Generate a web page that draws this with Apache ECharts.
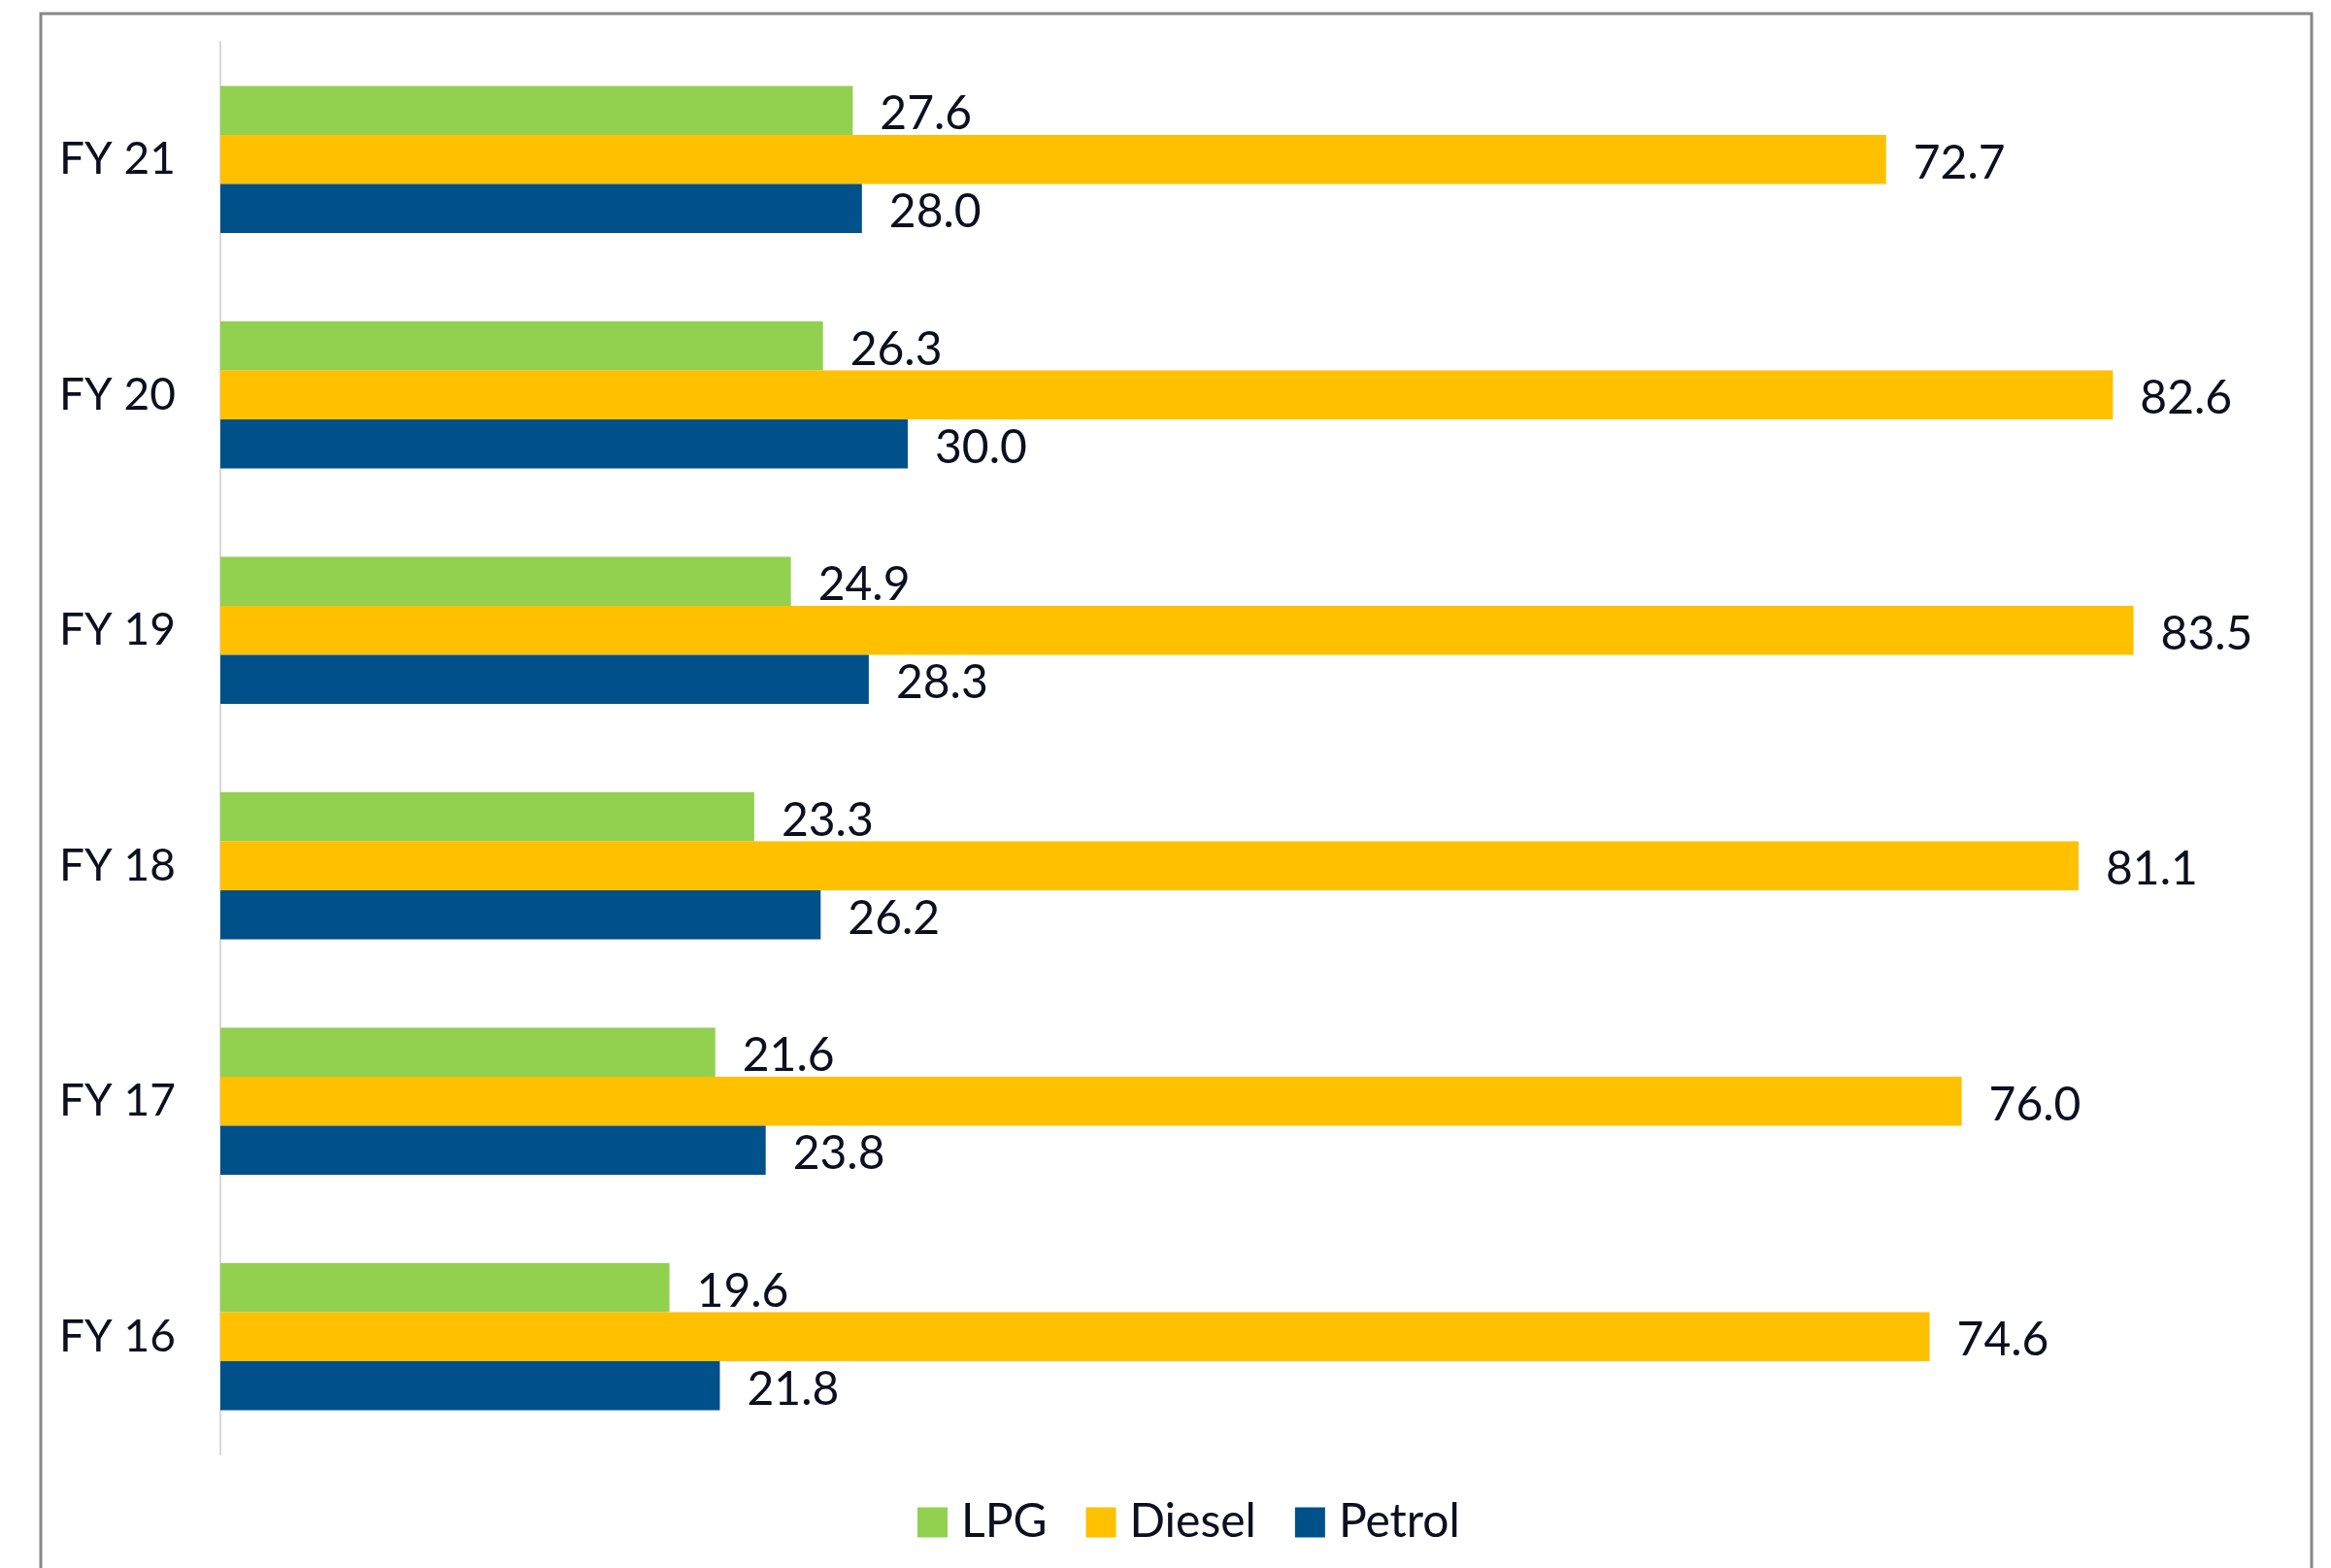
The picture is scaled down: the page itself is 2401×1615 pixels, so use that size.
<!DOCTYPE html>
<html>
<head>
<meta charset="utf-8">
<script src="https://cdn.jsdelivr.net/npm/echarts@6/dist/echarts.min.js"></script>
<style>
  html, body { margin: 0; padding: 0; background: #fff; }
  #chart { width: 2401px; height: 1615px; }
</style>
</head>
<body>
<div id="chart"></div>
<script>
// categories, bottom to top
const years = ['FY 16', 'FY 17', 'FY 18', 'FY 19', 'FY 20', 'FY 21']
const lpg = [19.6, 21.6, 23.3, 24.9, 26.3, 27.6]
const diesel = [74.6, 76.0, 81.1, 83.5, 82.6, 72.7]
const petrol = [21.8, 23.8, 26.2, 28.3, 30.0, 28.0]

const chart = echarts.init(document.getElementById('chart'))

const labelStyle = {
  show: true,
  position: 'right',
  distance: 28,
  offset: [0, 4],
  fontFamily: 'Lato',
  fontSize: 48,
  color: '#0b0f1e',
  formatter: (p) => p.value.toFixed(1)
}

const makeSeries = (name, data, color) => ({
  name,
  type: 'bar',
  data,
  barGap: '0%',
  barCategoryGap: '37.5%',
  itemStyle: { color },
  label: labelStyle
})

const option = {
  animation: false,
  graphic: [{
    type: 'rect',
    shape: { x: 42, y: 14, width: 2339, height: 1700 },
    style: { fill: 'none', stroke: '#878787', lineWidth: 3 }
  }],
  legend: {
    data: ['LPG', 'Diesel', 'Petrol'],
    bottom: 18,
    left: 940,
    itemWidth: 31,
    itemHeight: 31,
    itemGap: 40,
    icon: 'rect',
    textStyle: {
      fontFamily: 'Lato',
      fontSize: 48,
      color: '#0b0f1e',
      padding: [0, 0, 0, 9]
    }
  },
  grid: {
    left: 227,
    right: 50,
    top: 43,
    bottom: 117
  },
  xAxis: {
    type: 'value',
    min: 0,
    max: 90,
    show: false
  },
  yAxis: {
    type: 'category',
    data: years,
    axisLine: { show: true, lineStyle: { color: '#d9d9d9', width: 2 } },
    axisTick: { show: false },
    axisLabel: {
      fontFamily: 'Lato',
      fontSize: 46,
      color: '#0b0f1e',
      margin: 166,
      align: 'left'
    }
  },
  series: [
    makeSeries('LPG', lpg, '#92D050'),
    makeSeries('Diesel', diesel, '#FFC000'),
    makeSeries('Petrol', petrol, '#00508A')
  ]
}

chart.setOption(option)
</script>
</body>
</html>
